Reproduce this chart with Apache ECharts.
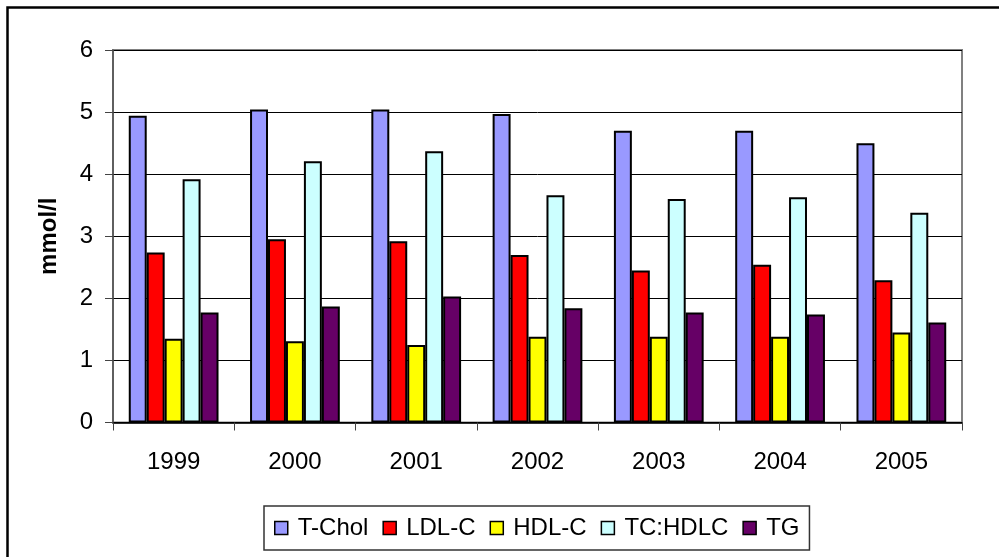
<!DOCTYPE html>
<html>
<head>
<meta charset="utf-8">
<script src="https://cdn.jsdelivr.net/npm/echarts@6/dist/echarts.min.js"></script>
<style>
  html, body { margin: 0; padding: 0; background: #fff; }
  #chart { width: 999px; height: 557px; }
</style>
</head>
<body>
<div id="chart"></div>
<script>
// Lipid measurements by year (mmol/l)
const years = ['1999', '2000', '2001', '2002', '2003', '2004', '2005'];
const seriesNames = ['T-Chol', 'LDL-C', 'HDL-C', 'TC:HDLC', 'TG'];
const tChol = [4.94, 5.04, 5.04, 4.97, 4.70, 4.70, 4.50];
const ldlC = [2.74, 2.95, 2.92, 2.70, 2.45, 2.54, 2.29];
const hdlC = [1.35, 1.31, 1.25, 1.38, 1.38, 1.38, 1.45];
const tcHdlc = [3.92, 4.21, 4.37, 3.66, 3.60, 3.63, 3.38];
const tg = [1.77, 1.87, 2.03, 1.84, 1.77, 1.74, 1.61];
const yTicks = [0, 1, 2, 3, 4, 5, 6];

const colors = ['#9999FF', '#FF0000', '#FFFF00', '#CCFFFF', '#660066'];
const values = [tChol, ldlC, hdlC, tcHdlc, tg];
const font = 'Arial, "Liberation Sans", sans-serif';

const chart = echarts.init(document.getElementById('chart'), null, { renderer: 'canvas' });

chart.setOption({
  backgroundColor: '#fff',
  animation: false,
  textStyle: { fontFamily: font, color: '#000' },
  graphic: [{
    type: 'rect',
    shape: { x: 7.5, y: 7.5, width: 1200, height: 800 },
    style: { fill: 'none', stroke: '#000', lineWidth: 2.5 },
    z: 100
  }],
  grid: {
    left: 113, right: 37, top: 50, bottom: 134.5,
    show: true, borderColor: '#808080', borderWidth: 2, backgroundColor: '#fff'
  },
  legend: {
    data: seriesNames,
    left: 264, top: 506,
    padding: [10, 10, 10, 10],
    itemGap: 14,
    itemWidth: 13, itemHeight: 13,
    icon: 'rect',
    itemStyle: { borderColor: '#000', borderWidth: 1.5 },
    borderColor: '#333', borderWidth: 1.5,
    backgroundColor: '#fff',
    textStyle: { fontFamily: font, fontSize: 24, color: '#000', padding: [0, 0, 0, 5] }
  },
  xAxis: {
    type: 'category',
    data: years,
    axisLine: { lineStyle: { color: '#000', width: 1.5 } },
    axisTick: { show: true, length: 8, lineStyle: { color: '#444' } },
    axisLabel: { fontSize: 24, color: '#000', margin: 28, fontFamily: font },
    splitLine: { show: false }
  },
  yAxis: {
    type: 'value',
    min: yTicks[0], max: yTicks[yTicks.length - 1], interval: 1,
    name: 'mmol/l',
    nameLocation: 'middle',
    nameGap: 52,
    nameTextStyle: { fontSize: 24, fontWeight: 'bold', color: '#000', fontFamily: font },
    axisLine: { show: true, lineStyle: { color: '#555', width: 1.5 } },
    axisTick: { show: true, length: 8, lineStyle: { color: '#444' } },
    axisLabel: { fontSize: 24, color: '#000', margin: 20, fontFamily: font },
    splitLine: { show: true, lineStyle: { color: '#000', width: 1 } }
  },
  series: seriesNames.map((name, i) => ({
    name: name,
    type: 'bar',
    data: values[i],
    barGap: '0%',
    barCategoryGap: '26%',
    itemStyle: { color: colors[i], borderColor: '#000', borderWidth: 2 }
  }))
});
</script>
</body>
</html>
